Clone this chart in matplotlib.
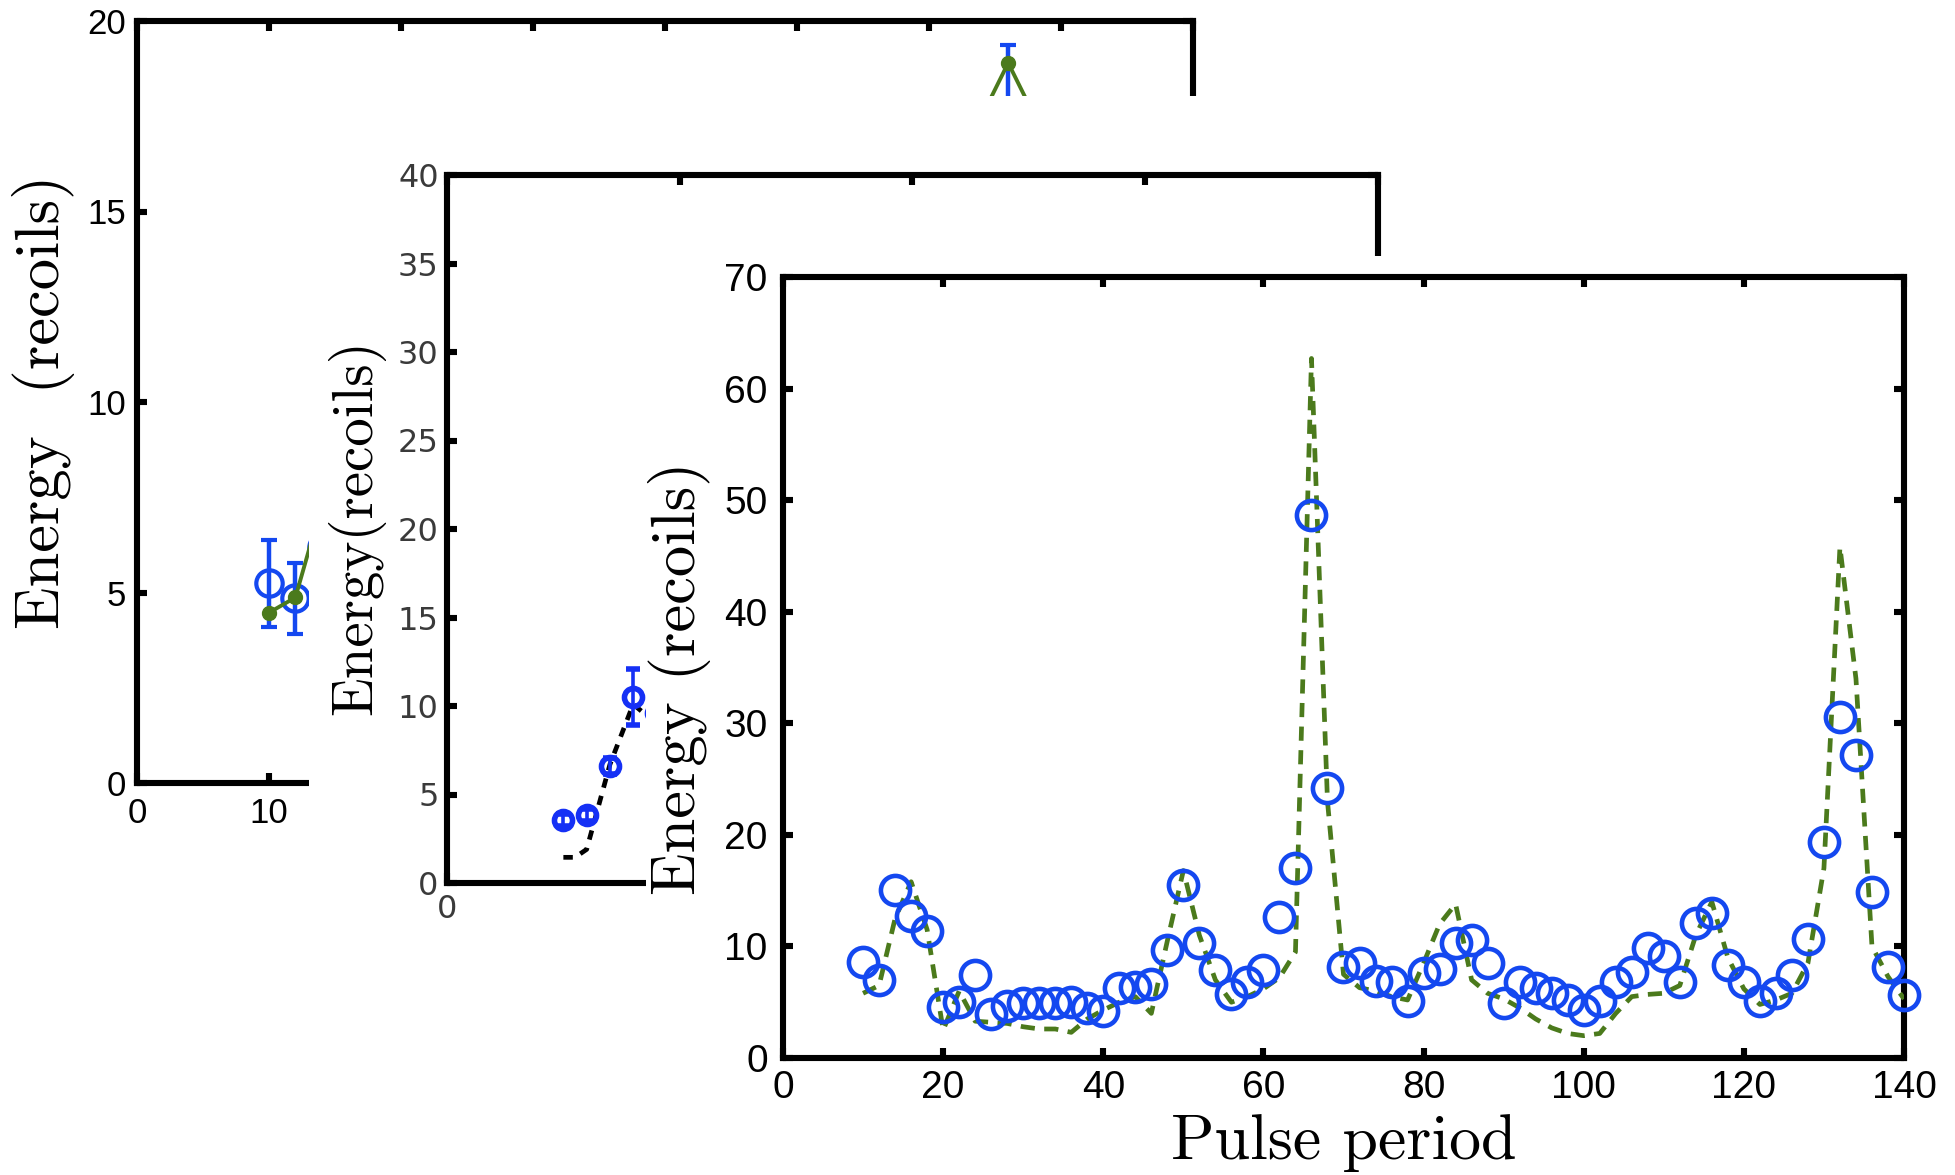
import matplotlib
matplotlib.use("Agg")
import matplotlib.pyplot as plt
from matplotlib.patches import Rectangle

# ---------------- data ----------------
# front panel: measured energy vs pulse period, and theory curve
period = [10, 12, 14, 16, 18, 20, 22, 24, 26, 28, 30, 32, 34, 36, 38, 40, 42, 44, 46, 48,
          50, 52, 54, 56, 58, 60, 62, 64, 66, 68, 70, 72, 74, 76, 78, 80, 82, 84, 86, 88,
          90, 92, 94, 96, 98, 100, 102, 104, 106, 108, 110, 112, 114, 116, 118, 120, 122,
          124, 126, 128, 130, 132, 134, 136, 138, 140]
energy_meas = [8.6, 7.0, 15.1, 12.7, 11.4, 4.6, 5.0, 7.4, 3.9, 4.7, 4.9, 4.95, 4.9, 5.0, 4.5,
               4.2, 6.3, 6.4, 6.6, 9.7, 15.5, 10.3, 7.9, 5.7, 6.8, 7.9, 12.6, 17.0, 48.7, 24.2,
               8.2, 8.5, 6.9, 6.8, 5.1, 7.6, 8.0, 10.3, 10.6, 8.5, 4.95, 6.8, 6.3, 5.8, 5.2,
               4.3, 5.1, 6.8, 7.7, 9.9, 9.1, 6.8, 12.1, 13.0, 8.3, 6.8, 5.1, 5.8, 7.4, 10.7,
               19.4, 30.6, 27.2, 14.9, 8.2, 5.65]
energy_theory = [5.8, 6.5, 12.5, 15.8, 11.5, 2.5, 6.0, 3.3, 3.2, 3.1, 2.8, 2.6, 2.6, 2.3, 3.5,
                 4.3, 5.0, 5.5, 4.0, 10.5, 16.8, 11.0, 7.0, 5.0, 5.5, 6.2, 7.2, 9.5, 62.7, 23.0,
                 7.5, 6.3, 6.0, 5.5, 5.2, 8.5, 12.0, 13.8, 7.0, 5.8, 5.3, 4.5, 3.5, 2.7, 2.2,
                 2.0, 2.2, 4.0, 5.5, 5.7, 5.8, 6.5, 11.0, 14.0, 9.0, 6.2, 4.8, 5.2, 5.8, 8.5,
                 17.0, 45.8, 34.0, 10.0, 7.3, 5.3]

# middle panel
mid_period = [10, 12, 14, 16, 18]
mid_energy = [3.55, 3.85, 6.6, 10.5, 9.6]
mid_err = [0.35, 0.35, 0.45, 1.6, 1.6]
mid_theory_period = [10, 11, 12, 14, 16, 18]
mid_theory = [1.45, 1.45, 1.9, 6.7, 10.1, 9.0]

# back panel
back_period = [10, 12, 14, 66]
back_energy = [5.24, 4.85, 6.2, 17.5]
back_err = [1.15, 0.93, 1.0, 1.87]
back_theory_period = [10, 12, 14, 64, 66, 68]
back_theory = [4.47, 4.87, 7.3, 17.5, 18.9, 17.5]

# ---------------- styling ----------------
W, H = 1956, 1175
fig = plt.figure(figsize=(W / 100, H / 100), dpi=100)

BLUE = "#1448f0"
BLUE2 = "#1530f5"
GREEN = "#4b7a1c"
SPINE_W = 4.4
LABEL_FONT = "cmr10"


def px_axes(left, top, right, bottom):
    return fig.add_axes([left / W, 1 - bottom / H, (right - left) / W, (bottom - top) / H])


def style_axes(ax, size, family, color="black", xpad=10, ypad=8):
    for s in ax.spines.values():
        s.set_linewidth(SPINE_W)
        s.set_capstyle("projecting")
    ax.tick_params(direction="in", length=7, width=SPINE_W, top=True, right=True,
                   labelsize=size, labelcolor=color)
    ax.tick_params(axis="x", pad=xpad)
    ax.tick_params(axis="y", pad=ypad)
    for lab in ax.get_xticklabels() + ax.get_yticklabels():
        lab.set_family(family)


def cover(left, top, z):
    r = Rectangle((left / W, 0), 1 - left / W, 1 - top / H, transform=fig.transFigure,
                  facecolor="white", edgecolor="none", zorder=z)
    fig.add_artist(r)


def ylab(ax, text, xc, yc, size):
    ax.text(xc / W, 1 - yc / H, text, transform=fig.transFigure, rotation=90,
            ha="center", va="center", fontsize=size, family=LABEL_FONT)


# ---- back panel ----
ax1 = px_axes(137, 21, 1193, 783)
ax1.set_zorder(1)
ax1.set_xlim(0, 80)
ax1.set_ylim(0, 20)
ax1.set_xticks(range(0, 81, 10))
ax1.set_yticks([0, 5, 10, 15, 20])
ax1.errorbar(back_period, back_energy, yerr=back_err, fmt="o", color=BLUE, mfc="none",
             ms=19, mew=3.0, elinewidth=3.2, capsize=6, capthick=3.2, zorder=3)
ax1.plot(back_theory_period, back_theory, "-o", color=GREEN, lw=2.8, ms=10, zorder=4)
style_axes(ax1, 25, "Liberation Sans", xpad=10, ypad=8)
ylab(ax1, "Energy  (recoils)", 44, 402, 45)

cover(309, 96, 2)

# ---- middle panel ----
ax2 = px_axes(447, 175, 1378, 883)
ax2.set_zorder(3)
ax2.set_xlim(0, 80)
ax2.set_ylim(0, 40)
ax2.set_xticks([0, 20, 40, 60, 80])
ax2.set_yticks(range(0, 41, 5))
ax2.plot(mid_theory_period, mid_theory, color="black", lw=3.4, dashes=(2.0, 1.8), zorder=3)
ax2.errorbar(mid_period, mid_energy, yerr=mid_err, fmt="o", color=BLUE2, mfc="none",
             ms=13, mew=4.0, elinewidth=2.6, capsize=5, capthick=2.6, zorder=4)
style_axes(ax2, 23, "DejaVu Sans", color="#3a3a3a", xpad=8, ypad=6)
ylab(ax2, "Energy(recoils)", 356, 527, 41)

cover(646, 256, 4)

# ---- front panel ----
ax3 = px_axes(783, 277, 1904, 1058)
ax3.set_zorder(5)
ax3.set_xlim(0, 140)
ax3.set_ylim(0, 70)
ax3.set_xticks(range(0, 141, 20))
ax3.set_yticks(range(0, 71, 10))
ax3.plot(period, energy_theory, color=GREEN, lw=3.4, dashes=(3, 2), zorder=3)
ax3.plot(period, energy_meas, "o", color=BLUE, mfc="none", ms=21, mew=3.3, zorder=4,
         clip_on=False)
style_axes(ax3, 28, "Liberation Sans", xpad=9, ypad=11)
ylab(ax3, "Energy (recoils)", 680, 678, 45)
ax3.text(1344 / W, 1 - 1143 / H, "Pulse period", transform=fig.transFigure,
         ha="center", va="center", fontsize=46, family=LABEL_FONT)

fig.savefig("out.png", dpi=100, facecolor="white")
